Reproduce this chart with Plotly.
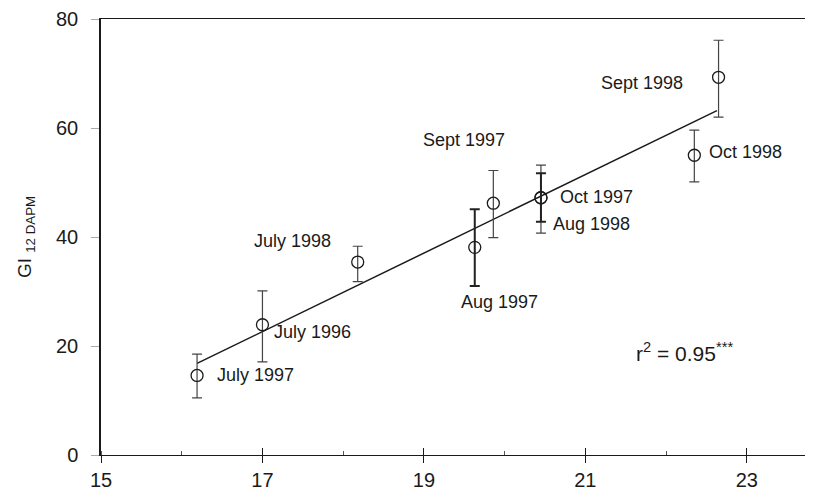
import plotly.graph_objects as go

# ---- data ----
months = ["July 1997", "July 1996", "July 1998", "Aug 1997", "Sept 1997",
          "Oct 1997", "Aug 1998", "Oct 1998", "Sept 1998"]
temp = [16.19, 17.0, 18.18, 19.63, 19.86, 20.45, 20.45, 22.35, 22.65]
gi = [14.6, 23.9, 35.4, 38.1, 46.2, 47.2, 47.2, 55.0, 69.3]
gi_upper = [18.5, 30.1, 38.3, 45.1, 52.2, 53.2, 51.7, 59.6, 76.1]
gi_lower = [10.5, 17.1, 31.8, 31.0, 39.9, 40.7, 42.8, 50.1, 62.0]

fit_x = [16.19, 22.63]
fit_y = [16.8, 63.2]

x_ticks = [15, 17, 19, 21, 23]
y_ticks = [0, 20, 40, 60, 80]
r2_text = "r<sup>2</sup> = 0.95<sup>***</sup>"

# ---- styles ----
FONT = "Liberation Sans, Arial, Helvetica, sans-serif"
INK = "#1a1a1a"
thick_bars = {"Aug 1997", "Aug 1998"}
# label placement: (xanchor, xshift, yshift) in pixels relative to the point
label_pos = {
    "July 1997": ("left", 18, 0),
    "July 1996": ("left", 10, -7),
    "July 1998": ("right", -25, 21),
    "Aug 1997": ("center", 25, -55),
    "Sept 1997": ("center", -29, 63),
    "Oct 1997": ("left", 17, 1),
    "Aug 1998": ("left", 10, -26),
    "Oct 1998": ("left", 13, 3),
    "Sept 1998": ("right", -34, -6),
}

fig = go.Figure()

fig.add_trace(go.Scatter(x=fit_x, y=fit_y, mode="lines",
                         line=dict(color=INK, width=1.5), showlegend=False,
                         hoverinfo="skip"))

for m, xv, yv, hi, lo in zip(months, temp, gi, gi_upper, gi_lower):
    thick = m in thick_bars
    fig.add_trace(go.Scatter(
        x=[xv], y=[yv], mode="markers", name=m, showlegend=False,
        marker=dict(symbol="circle-open", size=12, color=INK,
                    line=dict(width=1.3, color=INK)),
        error_y=dict(type="data", symmetric=False,
                     array=[hi - yv], arrayminus=[yv - lo],
                     color="#222" if thick else "#444",
                     thickness=2.0 if thick else 1.2, width=5),
    ))

annotations = []
for m, xv, yv in zip(months, temp, gi):
    xa, xs, ys = label_pos[m]
    annotations.append(dict(x=xv, y=yv, xref="x", yref="y", text=m,
                            showarrow=False, xanchor=xa, yanchor="middle",
                            xshift=xs, yshift=ys,
                            font=dict(family=FONT, size=18, color=INK)))
annotations.append(dict(x=0.748, y=0.236, xref="paper", yref="paper",
                        text=r2_text, showarrow=False, xanchor="left",
                        yanchor="middle",
                        font=dict(family=FONT, size=21, color=INK)))

# page body has an 8px margin: size the figure so it ends at the window edge
fig.update_layout(
    width=805, height=491,
    margin=dict(l=93, r=0, t=11, b=44),
    paper_bgcolor="white", plot_bgcolor="white",
    font=dict(family=FONT, color=INK),
    annotations=annotations,
    xaxis=dict(range=[15, 23.82], tickmode="array", tickvals=x_ticks,
               ticktext=[str(t) for t in x_ticks],
               showgrid=False, zeroline=False, showline=True,
               linecolor=INK, linewidth=1.4, mirror=True,
               ticks="outside", ticklen=7, tickwidth=1.2, tickcolor=INK,
               minor=dict(ticks="inside", dtick=1, tick0=15, ticklen=4,
                          tickwidth=1, tickcolor="#555", showgrid=False),
               tickfont=dict(family=FONT, size=20, color=INK)),
    xaxis2=dict(range=[15, 23.82], overlaying="x", anchor="y",
                side="bottom", tickmode="array", tickvals=x_ticks,
                showticklabels=False, showgrid=False, zeroline=False,
                showline=False, ticks="inside", ticklen=7, tickwidth=1.2,
                tickcolor=INK),
    yaxis=dict(range=[0, 80], tickmode="array", tickvals=y_ticks,
               ticktext=[str(t) for t in y_ticks],
               showgrid=False, zeroline=False, showline=True,
               linecolor=INK, linewidth=1.5, mirror=False,
               ticks="outside", ticklen=8, tickwidth=1, tickcolor="#aaa",
               ticklabelstandoff=9,
               tickfont=dict(family=FONT, size=20, color=INK),
               title=dict(text="GI <sub>12 DAPM</sub>", standoff=19,
                          font=dict(family=FONT, size=19, color=INK))),
)

# invisible trace on the overlay axis that draws the upward half of major ticks
fig.add_trace(go.Scatter(x=[15], y=[0], xaxis="x2", yaxis="y", mode="markers",
                         marker=dict(opacity=0), showlegend=False,
                         hoverinfo="skip"))

fig.write_html("out.html")
